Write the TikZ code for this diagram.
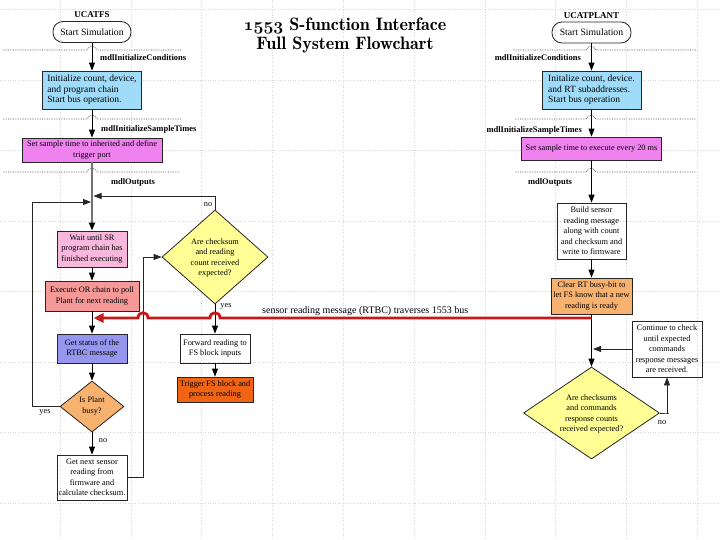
\documentclass[tikz,border=0pt]{standalone}
\usepackage{fontspec}
\setmainfont{Liberation Serif}
\usetikzlibrary{arrows.meta,shapes.geometric}
\definecolor{cblue}{RGB}{160,220,250}
\definecolor{cmag}{RGB}{240,130,240}
\definecolor{cpink}{RGB}{248,184,222}
\definecolor{csalmon}{RGB}{244,152,152}
\definecolor{cviolet}{RGB}{150,150,238}
\definecolor{corange}{RGB}{248,178,112}
\definecolor{cyellow}{RGB}{255,255,150}
\definecolor{cdeep}{RGB}{240,100,20}
\definecolor{cred}{RGB}{200,24,24}
\newcommand\fz[2]{\fontsize{#1}{#2}\selectfont}
\begin{document}
\begin{tikzpicture}[x=1pt,y=-1pt,
  box/.style={draw=black!85, line width=0.8pt, inner sep=1pt, align=center, font=\fz{8.3}{10.5}, text=black},
  dia/.style={shape=diamond, draw=black!85, line width=0.8pt, inner sep=0pt},
  dtext/.style={inner sep=0pt, align=center, font=\fz{8.3}{10.6}},
  lab/.style={inner sep=0pt, font=\bfseries\fz{8.5}{10}},
  small/.style={inner sep=0pt, font=\fz{8.3}{10}},
  arr/.style={draw=black, line width=1pt, -{Triangle[length=8pt,width=6pt]}},
  link/.style={draw=black!85, line width=0.8pt},
  sepline/.style={densely dotted, draw=black!70, line width=0.7pt},
  gridl/.style={dotted, draw=black!15, line width=0.5pt},
  redl/.style={draw=cred, line width=2.8pt, -{Triangle[length=10pt,width=9pt]}}]
\fill[white] (0,0) rectangle (720,540);
\useasboundingbox (0,0) rectangle (720,540);
% faint grid
\foreach \k in {0,...,9} \draw[gridl] ({60+70.8*\k},0) -- ({60+70.8*\k},540);
\foreach \k in {0,...,7} \draw[gridl] (0,{9.5+70.5*\k}) -- (720,{9.5+70.5*\k});
% separators
\draw[sepline] (3,50) -- (87,50) .. controls (89,45) and (95,45) .. (97,50) -- (182,50);
\draw[sepline] (3,119) -- (87,119) .. controls (89,114) and (95,114) .. (97,119) -- (182,119);
\draw[sepline] (3,172) -- (87,172) .. controls (89,167) and (95,167) .. (97,172) -- (180,172);
\draw[sepline] (513,50) -- (586,50) .. controls (588,45) and (594,45) .. (596,50) -- (697,50);
\draw[sepline] (515,119) -- (586,119) .. controls (588,114) and (594,114) .. (596,119) -- (697,119);
\draw[sepline] (515,172) -- (586,172) .. controls (588,167) and (594,167) .. (596,172) -- (697,172);
% title
\node[align=center, inner sep=0pt, font=\fontfamily{lmr}\bfseries\fz{18}{19}] (title) at (345,36)
  {{\usefont{OML}{cmm}{b}{it}1553} S-function Interface\\Full System Flowchart};
% ---------------- left column
\node[inner sep=0pt, font=\bfseries\fz{9}{10}] (tL) at (92,15) {UCATFS};
\node[box, rounded corners=10pt, minimum width=78pt, minimum height=21pt, font=\fz{9.7}{11}] (startL) at (92,32) {Start Simulation};
\node[box, fill=cblue, minimum width=99pt, minimum height=38pt, align=left, font=\fz{9.5}{10.5}] (initL) at (92,90)
  {Initialize count, device,\\and program chain\\Start bus operation.};
\node[box, fill=cmag, minimum width=140pt, minimum height=24pt] (sampL) at (92,150)
  {Set sample time to inherited and define\\trigger port};
\node[box, fill=cpink, minimum width=70pt, minimum height=36pt] (waitL) at (92,249)
  {Wait until SR\\program chain has\\finished executing};
\node[box, fill=csalmon, minimum width=94pt, minimum height=30pt] (execL) at (92,296)
  {Execute OR chain to poll\\Plant for next reading};
\node[box, fill=cviolet, minimum width=70pt, minimum height=29pt] (statL) at (92,348.5)
  {Get status of the\\RTBC message};
\node[dia, fill=corange, minimum width=64pt, minimum height=51pt] (busy) at (92,406.5) {};
\node[dtext] (busyT) at (92,406) {Is Plant\\busy?};
\node[box, minimum width=70pt, minimum height=45pt] (nextL) at (92,477.5)
  {Get next sensor\\reading from\\firmware and\\calculate checksum.};
\node[dia, fill=cyellow, minimum width=106pt, minimum height=94pt] (chk1) at (215,257) {};
\node[dtext] (chk1T) at (215,258) {Are checksum\\and reading\\count received\\expected?};
\node[box, minimum width=70pt, minimum height=29pt] (fwd) at (215,348.5)
  {Forward reading to\\FS block inputs};
\node[box, fill=cdeep, minimum width=76pt, minimum height=25pt] (trig) at (215,389.5)
  {Trigger FS block and\\process reading};
\node[lab, anchor=west] (l1) at (100,58) {mdlInitializeConditions};
\node[lab, anchor=west] (l2) at (101,129) {mdlInitializeSampleTimes};
\node[lab] (l3) at (133,182) {mdlOutputs};
\coordinate (j1) at (91,202);
\coordinate (j2) at (93.5,196);
% left connectors
\draw[arr] (startL.south) -- (startL.south |- initL.north);
\draw[arr] (initL.south) -- (initL.south |- sampL.north);
\draw[line width=2pt, draw=black!55, -{Triangle[length=8pt,width=6pt,color=black]}] (sampL.south) -- (waitL.north);
\draw[arr] (waitL) -- (execL);
\draw[arr] (execL) -- (statL);
\draw[arr] (statL) -- (busy.north);
\draw[arr] (busy.south) -- (nextL.north);
\draw[link, -{Triangle[length=8pt,width=6pt]}] (busy.west) -- ++(-27,0) |- (j1);
\draw[link, -{Triangle[length=8pt,width=6pt]}] (chk1.north) |- (j2);
\draw[link, -{Triangle[length=8pt,width=6pt]}] (nextL.east) -- ++(16,0) |- (chk1.west);
\draw[arr] (chk1.south) -- (fwd.north);
\draw[arr] (fwd) -- (trig);
\node[small] (yes1) at (45,412) {yes};
\node[small] (no1) at (103,441) {no};
\node[small] (no2) at (208,205) {no};
\node[small] (yes2) at (226,306) {yes};
% ---------------- right column
\node[inner sep=0pt, font=\bfseries\fz{9}{10}] (tR) at (591.5,16) {UCATPLANT};
\node[box, rounded corners=10pt, minimum width=79pt, minimum height=21pt, font=\fz{9.7}{11}] (startR) at (591.5,32.5) {Start Simulation};
\node[box, fill=cblue, minimum width=99pt, minimum height=38pt, align=left, font=\fz{9.5}{10.5}] (initR) at (591.5,90)
  {Initalize count, device.\\and RT subaddresses.\\Start bus operation};
\node[box, fill=cmag, minimum width=140pt, minimum height=23pt] (sampR) at (591.5,148.5)
  {Set sample time to execute every 20 ms};
\node[box, minimum width=69pt, minimum height=56pt] (build) at (591.5,231)
  {Build sensor\\reading message\\along with count\\and checksum and\\write to firmware};
\node[box, fill=corange, minimum width=81pt, minimum height=36pt] (clear) at (591.5,296)
  {Clear RT busy-bit to\\let FS know that a new\\reading is ready};
\node[box, minimum width=70pt, minimum height=56pt] (cont) at (667,349)
  {Continue to check\\until expected\\commands\\response messages\\are received.};
\node[dia, fill=cyellow, minimum width=136pt, minimum height=92pt] (chk2) at (591.5,413) {};
\node[dtext] (chk2T) at (591.5,414) {Are checksums\\and commands\\response counts\\received expected?};
\node[lab, anchor=east] (r1) at (581,58) {mdlInitializeConditions};
\node[lab, anchor=east] (r2) at (582,130) {mdlInitializeSampleTimes};
\node[lab] (r3) at (550,182) {mdlOutputs};
\coordinate (j3) at (593,349);
\draw[arr] (startR.south) -- (startR.south |- initR.north);
\draw[arr] (initR) -- (sampR);
\draw[arr] (sampR) -- (build);
\draw[arr] (build) -- (clear);
\draw[arr] (clear.south) -- (chk2.north);
\draw[link, -{Triangle[length=8pt,width=6pt]}] (cont.west) -- (j3);
\draw[link, -{Triangle[length=8pt,width=6pt]}] (chk2.east) -- ++(9,0) -| (cont.south);
\node[small] (no3) at (662,423) {no};
% ---------------- bus
\coordinate (rs) at (591.5,318);
\coordinate (rt) at (93.5,318);
\draw[redl] (rs) -- (220,318) .. controls (220,311) and (210,311) .. (210,318) -- (148,318)
  .. controls (148,311) and (138,311) .. (138,318) -- (rt);
\node[inner sep=0pt, anchor=west, font=\fz{10}{12}] (bus) at (262,311) {sensor reading message (RTBC) traverses 1553 bus};
\end{tikzpicture}
\end{document}
